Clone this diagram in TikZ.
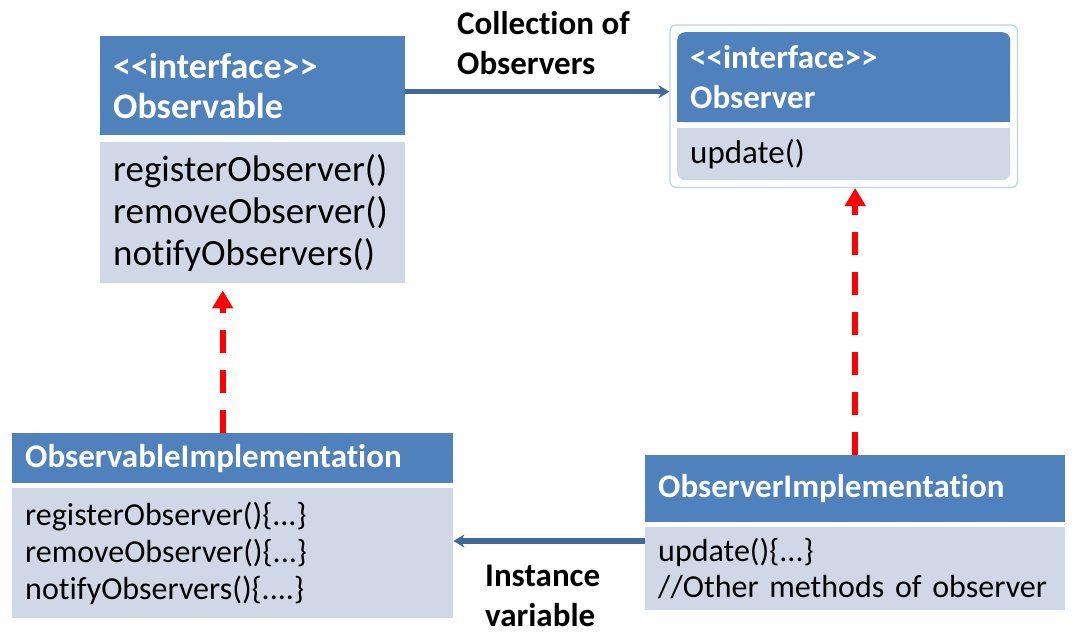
\documentclass[tikz,border=0pt]{standalone}
\usepackage{fontspec}
\setmainfont{Carlito}[Ligatures=NoCommon]
\usepackage{tikz}
\usetikzlibrary{arrows.meta, positioning, calc, fit, backgrounds}
\definecolor{headblue}{RGB}{79,129,189}
\definecolor{bodygray}{RGB}{208,216,232}
\definecolor{linkblue}{RGB}{66,104,154}
\definecolor{framecolor}{RGB}{185,212,222}
\newcommand{\stereo}{<\kern0pt<interface>\kern0pt>}

\begin{document}
\begin{tikzpicture}[
    x=1pt, y=-1pt,
    head/.style={fill=headblue, text=white, anchor=north west, align=left, inner xsep=13pt, inner ysep=0pt},
    methods/.style={fill=bodygray, text=black, anchor=north west, align=left, inner xsep=13pt, inner ysep=0pt},
    note/.style={anchor=north west, align=left, inner sep=0pt, font=\fontsize{33}{40}\selectfont\bfseries},
    link/.style={line width=5.5pt, draw=linkblue, -{Stealth[length=11pt, width=13pt]}},
    realize/.style={line width=6pt, draw=red, dash pattern=on 23pt off 17pt, -{Triangle[length=18pt, width=20pt]}}
]
    \useasboundingbox (0,0) rectangle (1078,635);

    % interfaces
    \node[head, text width=279pt, minimum height=99pt, font=\fontsize{36}{40}\selectfont\bfseries] (observable) at (100,36) {\stereo\\Observable};
    \node[methods, text width=279pt, minimum height=141pt, font=\fontsize{37}{42}\selectfont] (observablemethods) at (100,142) {registerObserver()\\removeObserver()\\notifyObservers()};

    \node[head, text width=307pt, minimum height=90pt, rounded corners=8pt, font=\fontsize{33}{40}\selectfont\bfseries] (observer) at (677,32) {\stereo\\Observer};
    \node[methods, text width=307pt, minimum height=52pt, rounded corners=8pt, font=\fontsize{33}{40}\selectfont] (observermethods) at (677,128) {update()};
    \begin{scope}[on background layer]
        \fill[headblue] (observer.west) rectangle (observer.south east);
        \fill[bodygray] (observermethods.north west) rectangle (observermethods.east);
    \end{scope}
    \node[fit=(observer)(observermethods), inner sep=7pt, draw=framecolor, line width=1.2pt, rounded corners=6pt] (observerframe) {};

    % implementations
    \node[head, text width=415pt, minimum height=50pt, font=\fontsize{33}{40}\selectfont\bfseries] (observableimpl) at (12,433) {ObservableImplementation};
    \node[methods, text width=415pt, minimum height=130pt, font=\fontsize{32}{37}\selectfont] (observableimplmethods) at (12,488) {registerObserver()\{...\}\\removeObserver()\{...\}\\notifyObservers()\{....\}};

    \node[head, text width=394pt, minimum height=67pt, font=\fontsize{33}{40}\selectfont\bfseries] (observerimpl) at (645,455) {ObserverImplementation};
    \node[methods, text width=394pt, minimum height=83pt, font=\fontsize{32}{36}\selectfont] (observerimplmethods) at (645,527) {update()\{...\}\\//Other methods of observer};

    % labels
    \node[note] (collection) at (457,11) {Collection of\\Observers};
    \node[note] (instance) at (485,565) {Instance\\variable};

    % connectors
    \draw[link] ([yshift=-6pt]observable.east) -- ([yshift=-6pt]observable.east -| observerframe.west);
    \draw[link] ([yshift=-14pt]observerimplmethods.north west) -- ([yshift=-14pt]observerimplmethods.north west -| observableimplmethods.east);
    \draw[realize] ([xshift=-10pt]observableimpl.north) -- ([xshift=-10pt,yshift=-7pt]observableimpl.north |- observablemethods.south);
    \draw[realize] (observerimpl.north) -- (observerimpl.north |- observerframe.south);
\end{tikzpicture}
\end{document}
